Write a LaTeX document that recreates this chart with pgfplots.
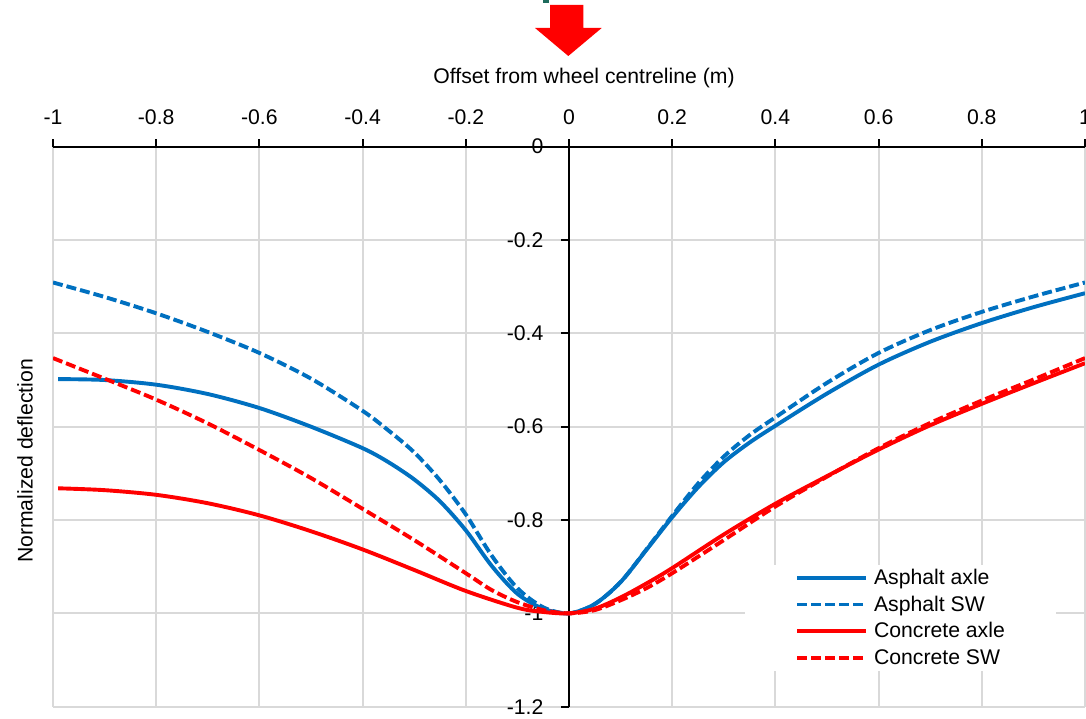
\documentclass[border=0pt]{standalone}
\usepackage{fontspec}
\setmainfont{Liberation Sans}
\usepackage{pgfplots}
\pgfplotsset{compat=1.18}
\definecolor{ablue}{HTML}{0070C0}
\definecolor{cred}{HTML}{FF0000}
\definecolor{gridgray}{HTML}{D9D9D9}
\definecolor{teal2}{HTML}{1E6B5C}

\pgfplotstableread{
x y
-0.99 -0.498
-0.9 -0.500
-0.8 -0.510
-0.7 -0.530
-0.6 -0.560
-0.5 -0.600
-0.4 -0.646
-0.35 -0.676
-0.3 -0.713
-0.25 -0.760
-0.2 -0.822
-0.15 -0.898
-0.1 -0.958
-0.05 -0.990
0 -1.0
0.05 -0.980
0.1 -0.933
0.15 -0.864
0.2 -0.794
0.25 -0.730
0.3 -0.676
0.35 -0.634
0.4 -0.598
0.5 -0.529
0.6 -0.467
0.7 -0.418
0.8 -0.378
0.9 -0.344
1.0 -0.314
}\asphaltaxle

\pgfplotstableread{
x y
-1.0 -0.291
-0.9 -0.322
-0.8 -0.357
-0.7 -0.397
-0.6 -0.442
-0.5 -0.497
-0.4 -0.566
-0.35 -0.608
-0.3 -0.655
-0.25 -0.715
-0.2 -0.788
-0.15 -0.876
-0.1 -0.946
-0.05 -0.987
0 -1.0
0.05 -0.980
0.1 -0.933
0.15 -0.863
0.2 -0.791
0.25 -0.722
0.3 -0.664
0.35 -0.618
0.4 -0.580
0.5 -0.506
0.6 -0.442
0.7 -0.393
0.8 -0.354
0.9 -0.321
1.0 -0.291
}\asphaltsw

\pgfplotstableread{
x y
-0.99 -0.732
-0.9 -0.736
-0.8 -0.746
-0.7 -0.764
-0.6 -0.790
-0.5 -0.824
-0.4 -0.863
-0.3 -0.907
-0.2 -0.952
-0.1 -0.988
-0.05 -0.997
0 -1.0
0.05 -0.990
0.1 -0.966
0.15 -0.936
0.2 -0.903
0.3 -0.831
0.4 -0.765
0.5 -0.706
0.6 -0.649
0.7 -0.597
0.8 -0.551
0.9 -0.507
1.0 -0.464
}\concreteaxle

\pgfplotstableread{
x y
-1.0 -0.453
-0.9 -0.497
-0.8 -0.542
-0.7 -0.593
-0.6 -0.650
-0.5 -0.710
-0.4 -0.776
-0.3 -0.843
-0.2 -0.914
-0.15 -0.950
-0.1 -0.976
-0.05 -0.993
0 -1.0
0.05 -0.993
0.1 -0.972
0.15 -0.946
0.2 -0.914
0.3 -0.843
0.4 -0.771
0.5 -0.707
0.6 -0.646
0.7 -0.592
0.8 -0.544
0.9 -0.499
1.0 -0.453
}\concretesw

\begin{document}
\fontsize{21.2}{25}\selectfont
\begin{tikzpicture}
\begin{axis}[
  at={(53pt,12.3pt)}, anchor=south west,
  scale only axis, width=1032pt, height=560pt,
  xmin=-1, xmax=1, ymin=-1.2, ymax=0,
  axis x line=top, axis y line=center,
  axis line style={black, line width=2pt, -},
  xtick={-1,-0.8,-0.6,-0.4,-0.2,0,0.2,0.4,0.6,0.8,1},
  xticklabels={-1,-0.8,-0.6,-0.4,-0.2,0,0.2,0.4,0.6,0.8,1},
  ytick={-1.2,-1,-0.8,-0.6,-0.4,-0.2,0},
  yticklabels={-1.2,-1,-0.8,-0.6,-0.4,-0.2,0},
  tick align=outside,
  major tick length=7.5pt,
  tick style={black, line width=2pt},
  grid=major, grid style={gridgray, line width=2pt},
  hide obscured x ticks=false, hide obscured y ticks=false,
  xticklabel style={anchor=south, inner sep=0pt, yshift=14pt},
  yticklabel style={anchor=east, inner sep=0pt, xshift=-18pt},
  legend style={at={(0.6705,0.253)}, anchor=north west, fill=white, draw=none,
    inner xsep=50pt, inner ysep=0pt, row sep=1.8pt, column sep=5pt,
    nodes={inner sep=1pt, text height=18pt, text depth=5pt}},
  legend cell align=left,
  legend image code/.code={\draw[#1] (0pt,0pt) -- (69pt,0pt);},
]
\addplot[ablue, line width=3.9pt, smooth] table[x=x,y=y] {\asphaltaxle};
\addlegendentry{Asphalt axle}
\addplot[ablue, line width=3.9pt, smooth, dash pattern=on 10pt off 4pt] table[x=x,y=y] {\asphaltsw};
\addlegendentry{Asphalt SW}
\addplot[cred, line width=3.9pt, smooth] table[x=x,y=y] {\concreteaxle};
\addlegendentry{Concrete axle}
\addplot[cred, line width=3.9pt, smooth, dash pattern=on 10pt off 4pt] table[x=x,y=y] {\concretesw};
\addlegendentry{Concrete SW}
\end{axis}
\node[anchor=base] at (584pt,635.5pt) {Offset from wheel centreline (m)};
\node[rotate=90, anchor=base] at (32.5pt,258pt) {Normalized deflection};
\fill[cred] (550pt,714pt) -- (583.3pt,714pt) -- (583.3pt,691pt) -- (601.7pt,691pt)
  -- (568.3pt,663pt) -- (535pt,691pt) -- (550pt,691pt) -- cycle;
\fill[teal2] (543pt,716pt) rectangle (549pt,719pt);
\pgfresetboundingbox
\path[use as bounding box] (0pt,0pt) rectangle (1086pt,719pt);
\end{tikzpicture}
\end{document}
